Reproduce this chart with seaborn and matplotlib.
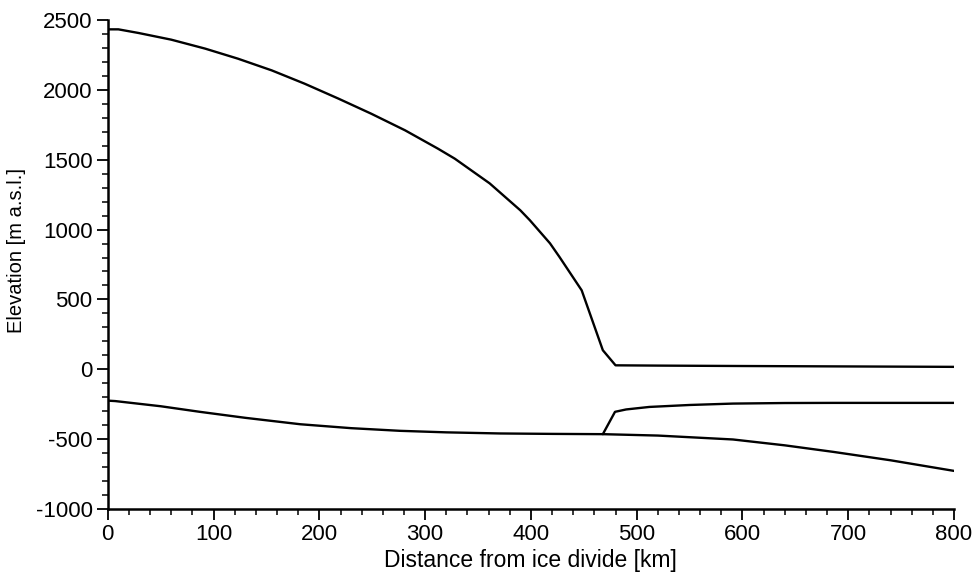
import numpy as np
import pandas as pd
import matplotlib
matplotlib.use("Agg")
import matplotlib.pyplot as plt
from matplotlib.ticker import MultipleLocator
import seaborn as sns

# Ice surface (km, m a.s.l.)
surf_x = [0, 10, 29, 60, 92, 123, 155, 186, 218, 249, 281, 312, 328, 361, 390, 399, 418, 427, 448, 468, 480, 520, 600, 700, 800]
surf_z = [2434, 2434, 2408, 2360, 2296, 2224, 2140, 2045, 1938, 1830, 1711, 1580, 1508, 1331, 1138, 1067, 902, 804, 565, 136, 28, 26, 23, 20, 17]

# Bed topography
bed_x = [0, 7, 50, 87, 130, 182, 230, 276, 320, 371, 420, 468, 520, 591, 640, 686, 740, 800]
bed_z = [-225, -228, -265, -305, -348, -394, -422, -441, -452, -460, -463, -465, -475, -503, -545, -592, -652, -728]

# Ice-shelf base
shelf_x = [468, 479.5, 490, 512, 550, 591, 640, 686, 740, 800]
shelf_z = [-465, -305, -288, -270, -256, -246, -242, -241, -241, -241]

x_ticks = [0, 100, 200, 300, 400, 500, 600, 700, 800]
y_ticks = [-1000, -500, 0, 500, 1000, 1500, 2000, 2500]

sns.set_theme(style="ticks")
plt.rcParams['font.family'] = ['Liberation Sans', 'DejaVu Sans']

fig = plt.figure(figsize=(9.8, 5.75), dpi=100)
ax = fig.add_axes([0.110, 0.115, 0.8635, 0.85])

for xs, zs in [(surf_x, surf_z), (bed_x, bed_z), (shelf_x, shelf_z)]:
    df = pd.DataFrame({"x": xs, "z": zs})
    sns.lineplot(data=df, x="x", y="z", ax=ax, color="black", linewidth=1.7, sort=False, estimator=None)

ax.set_xlim(0, 800)
ax.set_ylim(-1000, 2500)
ax.set_xticks(x_ticks)
ax.set_yticks(y_ticks)
ax.set_xticklabels([str(v) for v in x_ticks])
ax.set_yticklabels([str(v) for v in y_ticks])
ax.xaxis.set_minor_locator(MultipleLocator(20))
ax.yaxis.set_minor_locator(MultipleLocator(100))
ax.tick_params(axis="both", which="major", length=8, width=1.3, labelsize=16, color="black", labelcolor="black", direction="out", pad=3)
ax.tick_params(axis="both", which="minor", length=4.5, width=1.1, color="black", direction="out")
for s in ["top", "right"]:
    ax.spines[s].set_visible(False)
for s in ["left", "bottom"]:
    ax.spines[s].set_linewidth(1.8)
    ax.spines[s].set_color("black")

ax.set_xlabel("Distance from ice divide [km]", fontsize=16.5, color="black", labelpad=3)
ax.set_ylabel("Elevation [m a.s.l.]", fontsize=14.5, color="black")
ax.yaxis.set_label_coords(-0.097, 0.528)

fig.savefig("out.png", dpi=100, facecolor="white")
